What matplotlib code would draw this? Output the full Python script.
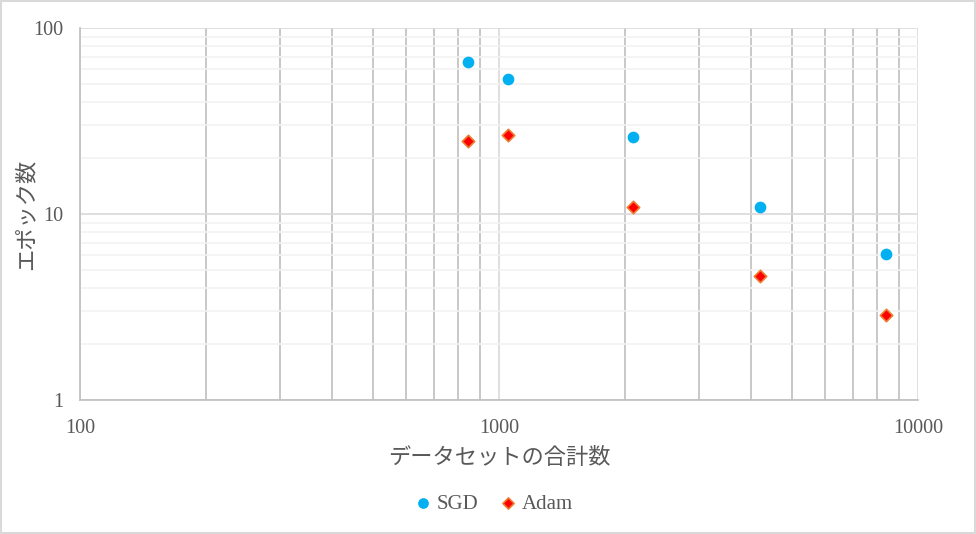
import numpy as np
import matplotlib.pyplot as plt
from matplotlib.ticker import LogLocator, FixedLocator, NullFormatter

plt.rcParams['font.family'] = ['Liberation Serif', 'Noto Sans CJK JP', 'DejaVu Sans']

# データ
data_size = [843, 1051, 2088, 4197, 8390]
sgd_epochs = [65.5, 53.2, 25.9, 10.9, 6.1]
adam_epochs = [24.7, 26.6, 10.9, 4.65, 2.87]
x_ticks = [100, 1000, 10000]
y_ticks = [1, 10, 100]

fig = plt.figure(figsize=(9.76, 5.34), dpi=100)
ax = fig.add_axes([80/976, 1-400/534, (918-80)/976, (400-28)/534])

ax.set_xscale('log')
ax.set_yscale('log')
ax.set_xlim(100, 10000)
ax.set_ylim(1, 100)

# グリッド
ax.xaxis.set_major_locator(FixedLocator(x_ticks))
ax.yaxis.set_major_locator(FixedLocator(y_ticks))
ax.xaxis.set_minor_locator(LogLocator(base=10, subs=np.arange(2, 10)))
ax.yaxis.set_minor_locator(LogLocator(base=10, subs=np.arange(2, 10)))
ax.xaxis.set_minor_formatter(NullFormatter())
ax.yaxis.set_minor_formatter(NullFormatter())
ax.set_xticklabels([str(v) for v in x_ticks])
ax.set_yticklabels([str(v) for v in y_ticks])

ax.grid(True, which='minor', axis='y', color='#f2f2f2', lw=1.2)
ax.grid(True, which='major', axis='y', color='#d9d9d9', lw=1.2)
ax.grid(True, which='minor', axis='x', color='#bfbfbf', lw=1.2)
ax.grid(True, which='major', axis='x', color='#d9d9d9', lw=1.2)
ax.set_axisbelow(True)

for s in ['top', 'right']:
    ax.spines[s].set_visible(False)
for s in ['left', 'bottom']:
    ax.spines[s].set_color('#bfbfbf')
    ax.spines[s].set_linewidth(1.2)

ax.tick_params(which='both', length=0, labelsize=14.5, colors='#595959')
ax.tick_params(axis='x', pad=14)
ax.tick_params(axis='y', pad=12)

ax.scatter(data_size, sgd_epochs, s=55, marker='o', color='#00b0f0', label='SGD', zorder=3)
ax.scatter(data_size, adam_epochs, s=40, marker='D', facecolor='#ff0000',
           edgecolor='#ed7d31', linewidth=1.2, label='Adam', zorder=3)

ax.set_xlabel('データセットの合計数', fontsize=16, color='#595959')
ax.xaxis.set_label_coords(0.5, -(459-400)/372, transform=ax.transAxes)
ax.xaxis.label.set_va('center')
ax.set_ylabel('エポック数', fontsize=16, color='#595959')
ax.yaxis.set_label_coords(-(80-27)/838, 0.5, transform=ax.transAxes)
ax.yaxis.label.set_va('center')

leg = fig.legend(loc='center', bbox_to_anchor=(493/976, 1-504/534), ncol=2, frameon=False,
                 fontsize=15, handletextpad=0.2, handlelength=0.9, columnspacing=1.0, markerscale=0.9)
for t in leg.get_texts():
    t.set_color('#595959')

# 外枠
fig.patches.append(plt.Rectangle((0.001, 0.002), 0.998, 0.996, transform=fig.transFigure,
                                 fill=False, edgecolor='#d9d9d9', lw=1.5))

fig.savefig('out.png', dpi=100)
